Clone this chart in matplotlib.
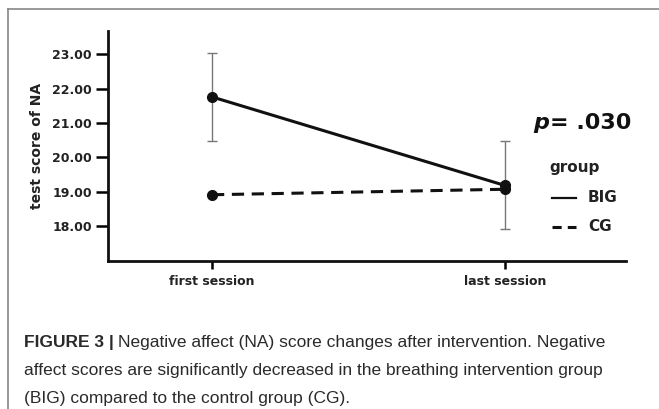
import matplotlib
matplotlib.use("Agg")
import matplotlib.pyplot as plt
from matplotlib.lines import Line2D

sessions = ["first session", "last session"]
big = [21.76, 19.18]
cg = [18.91, 19.07]
err_center = [21.76, 19.19]
err_half = [1.28, 1.29]
yticks = [18, 19, 20, 21, 22, 23]

fig = plt.figure(figsize=(6.59, 4.09), dpi=100)
ax = fig.add_axes([108/659, 1-261/409, (626-108)/659, (261-31)/409])

x = list(range(len(sessions)))
ax.errorbar(x, err_center, yerr=err_half, fmt="none", ecolor="#777777",
            elinewidth=1, capsize=3.5, capthick=1, zorder=1)
ax.plot(x, big, color="#111111", lw=2.2, marker="o", ms=7, zorder=3)
ax.plot(x, cg, color="#111111", lw=2.2, ls=(0, (4, 2.5)), marker="o", ms=7,
        zorder=3)

ax.set_xlim(-0.355, 1.413)
ax.set_ylim(16.98, 23.68)
ax.set_xticks(x)
ax.set_xticklabels(sessions, fontsize=9, fontweight="bold", color="#222222")
ax.set_yticks(yticks)
ax.set_yticklabels([f"{v:.2f}" for v in yticks], fontsize=9,
                   fontweight="bold", color="#222222")
ax.tick_params(axis="y", length=8.5, width=1.8, pad=3)
ax.tick_params(axis="x", length=6, width=1.8, pad=4)
ax.set_ylabel("test score of NA", fontsize=10, fontweight="bold",
              color="#222222", labelpad=6)
for s in ["top", "right"]:
    ax.spines[s].set_visible(False)
for s in ["left", "bottom"]:
    ax.spines[s].set_linewidth(2)
    ax.spines[s].set_color("#111111")

# p value and legend
pt = fig.text(533/659, 1-123/409, "p", fontsize=16, fontweight="bold",
              fontstyle="italic", va="center", ha="left", color="#111111")
fig.canvas.draw()
pbb = pt.get_window_extent()
fig.text((pbb.x1 + 1)/659, 1-123/409, "= .030", fontsize=16,
         fontweight="bold", va="center", ha="left", color="#111111")
fig.text(549/659, 1-167/409, "group", fontsize=11, fontweight="bold",
         va="center", ha="left", color="#222222")
fig.add_artist(Line2D([552/659, 576/659], [1-198/409, 1-198/409],
                      color="#111111", lw=1.6))
fig.add_artist(Line2D([552/659, 576/659], [1-227/409, 1-227/409],
                      color="#111111", lw=2.2, ls=(0, (3, 2))))
fig.text(588/659, 1-198/409, "BIG", fontsize=11, fontweight="bold",
         va="center", ha="left", color="#222222")
fig.text(588/659, 1-227/409, "CG", fontsize=11, fontweight="bold",
         va="center", ha="left", color="#222222")

# frame
fig.add_artist(Line2D([8/659, 1], [1-9/409, 1-9/409], color="#888888", lw=1.2))
fig.add_artist(Line2D([8/659, 8/659], [0, 1-9/409], color="#888888", lw=1.2))

# caption
cap_color = "#2a2a2a"
cap_size = 12.5
t = fig.text(24/659, 1-342/409, "FIGURE 3 |", fontsize=cap_size,
             fontweight="bold", family="Liberation Sans", va="center",
             ha="left", color=cap_color)
fig.canvas.draw()
bb = t.get_window_extent()
fig.text((bb.x1 + 4)/659, 1-342/409,
         "Negative affect (NA) score changes after intervention. Negative",
         fontsize=cap_size, family="Liberation Sans", va="center", ha="left",
         color=cap_color)
fig.text(24/659, 1-371/409,
         "affect scores are significantly decreased in the breathing intervention group",
         fontsize=cap_size, family="Liberation Sans", va="center", ha="left",
         color=cap_color)
fig.text(24/659, 1-399/409, "(BIG) compared to the control group (CG).",
         fontsize=cap_size, family="Liberation Sans", va="center", ha="left",
         color=cap_color)

fig.savefig("out.png", dpi=100)
